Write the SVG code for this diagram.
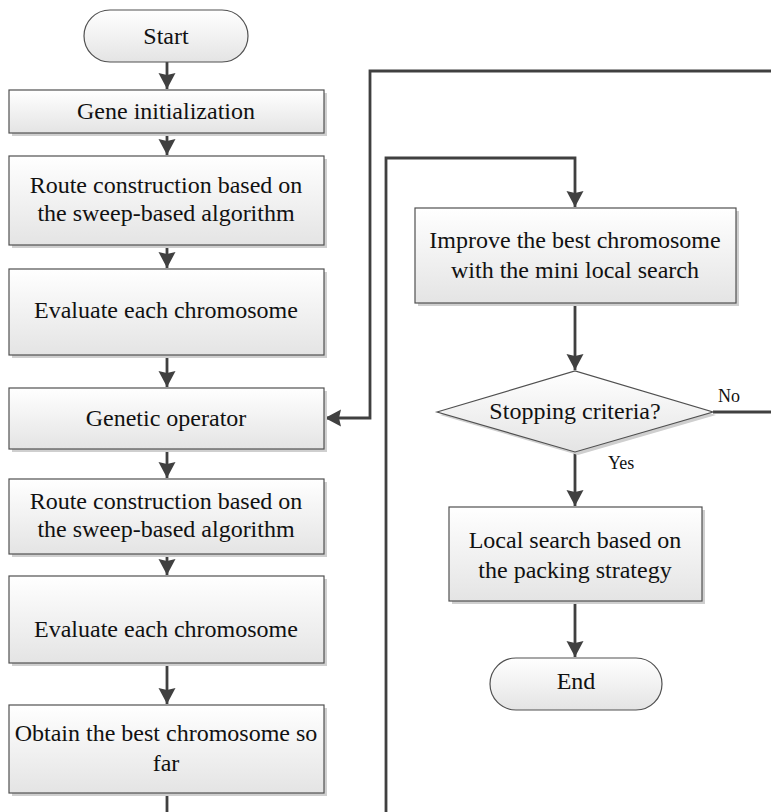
<svg xmlns="http://www.w3.org/2000/svg" width="771" height="812" viewBox="0 0 771 812">
<defs>
<linearGradient id="g" x1="0" y1="0" x2="0" y2="1">
<stop offset="0" stop-color="#ffffff"/>
<stop offset="1" stop-color="#e4e4e4"/>
</linearGradient>
<marker id="ah" markerUnits="userSpaceOnUse" markerWidth="18" markerHeight="18" viewBox="0 0 18 18" refX="16" refY="9" orient="auto">
<path d="M0,0.5 L16,9 L0,17.5 L2,9 Z" fill="#404040"/>
</marker>
</defs>
<style>
.box{fill:url(#g);stroke:#505050;stroke-width:1.2}
.sh{fill:#cfcfcf}
.t{font-family:"Liberation Serif","Times New Roman",serif;font-size:24px;fill:#111;text-anchor:middle}
.s{font-family:"Liberation Serif","Times New Roman",serif;font-size:18px;fill:#111}
.c{fill:none;stroke:#404040;stroke-width:2.8}
</style>
<rect width="771" height="812" fill="#ffffff"/>

<g id="connectors">
<path class="c" d="M167,62 V89" marker-end="url(#ah)"/>
<path class="c" d="M167,133 V155" marker-end="url(#ah)"/>
<path class="c" d="M167,245 V268" marker-end="url(#ah)"/>
<path class="c" d="M167,355 V387" marker-end="url(#ah)"/>
<path class="c" d="M167,449 V478" marker-end="url(#ah)"/>
<path class="c" d="M167,554 V575" marker-end="url(#ah)"/>
<path class="c" d="M167,663 V704" marker-end="url(#ah)"/>
<path class="c" d="M167,793 V812"/>
<path class="c" d="M771,71 H370 V418 H325" marker-end="url(#ah)"/>
<path class="c" d="M386,812 V158 H575 V207" marker-end="url(#ah)"/>
<path class="c" d="M575,303 V370" marker-end="url(#ah)"/>
<path class="c" d="M713,412 H771"/>
<path class="c" d="M575,452 V506" marker-end="url(#ah)"/>
<path class="c" d="M575,601 V657" marker-end="url(#ah)"/>
<text class="s" x="718" y="402">No</text>
<text class="s" x="608" y="469">Yes</text>
</g>

<g id="start">
<rect class="box" x="84" y="10" width="164" height="52" rx="26"/>
<text class="t" x="166" y="44">Start</text>
</g>

<g id="gene-init">
<rect class="sh" x="12" y="93" width="315" height="43"/>
<rect class="box" x="9" y="90" width="315" height="43"/>
<text class="t" x="166" y="119">Gene initialization</text>
</g>

<g id="route1">
<rect class="sh" x="12" y="159" width="315" height="89"/>
<rect class="box" x="9" y="156" width="315" height="89"/>
<text class="t" x="166" y="193">Route construction based on</text>
<text class="t" x="166" y="221">the sweep-based algorithm</text>
</g>

<g id="eval1">
<rect class="sh" x="12" y="272" width="315" height="86"/>
<rect class="box" x="9" y="269" width="315" height="86"/>
<text class="t" x="166" y="318">Evaluate each chromosome</text>
</g>

<g id="genetic">
<rect class="sh" x="12" y="391" width="315" height="61"/>
<rect class="box" x="9" y="388" width="315" height="61"/>
<text class="t" x="166" y="426">Genetic operator</text>
</g>

<g id="route2">
<rect class="sh" x="12" y="482" width="315" height="75"/>
<rect class="box" x="9" y="479" width="315" height="75"/>
<text class="t" x="166" y="509">Route construction based on</text>
<text class="t" x="166" y="537">the sweep-based algorithm</text>
</g>

<g id="eval2">
<rect class="sh" x="12" y="579" width="315" height="87"/>
<rect class="box" x="9" y="576" width="315" height="87"/>
<text class="t" x="166" y="637">Evaluate each chromosome</text>
</g>

<g id="obtain">
<rect class="sh" x="12" y="708" width="315" height="88"/>
<rect class="box" x="9" y="705" width="315" height="88"/>
<text class="t" x="166" y="741">Obtain the best chromosome so</text>
<text class="t" x="166" y="771">far</text>
</g>

<g id="improve">
<rect class="sh" x="418" y="211" width="321" height="95"/>
<rect class="box" x="415" y="208" width="321" height="95"/>
<text class="t" x="575" y="248">Improve the best chromosome</text>
<text class="t" x="575" y="278">with the mini local search</text>
</g>

<g id="stopping">
<polygon class="sh" points="440,415 578,374 716,415 578,455"/>
<polygon class="box" points="437,412 575,371 713,412 575,452"/>
<text class="t" x="575" y="419">Stopping criteria?</text>
</g>

<g id="local-search">
<rect class="sh" x="452" y="510" width="253" height="94"/>
<rect class="box" x="449" y="507" width="253" height="94"/>
<text class="t" x="575" y="548">Local search based on</text>
<text class="t" x="575" y="578">the packing strategy</text>
</g>

<g id="end">
<rect class="box" x="490" y="658" width="172" height="52" rx="26"/>
<text class="t" x="576" y="689">End</text>
</g>
</svg>
